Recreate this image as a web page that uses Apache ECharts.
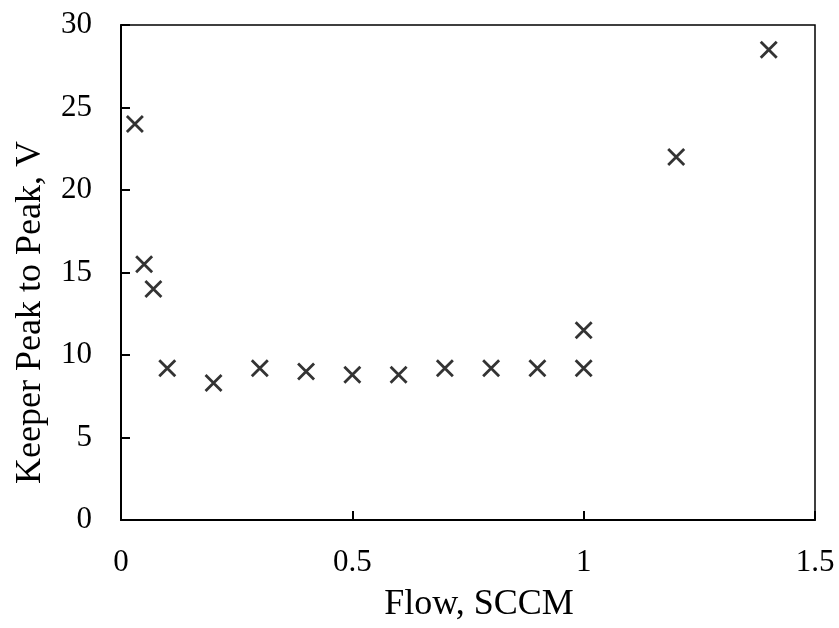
<!DOCTYPE html>
<html><head><meta charset="utf-8">
<script src="https://cdn.jsdelivr.net/npm/echarts@6/dist/echarts.min.js"></script>
<style>html,body{margin:0;padding:0;background:#fff}#c{width:839px;height:628px}</style>
</head><body><div id="c"></div>
<script>
const flow = [0.03, 0.05, 0.07, 0.1, 0.2, 0.3, 0.4, 0.5, 0.6, 0.7, 0.8, 0.9, 1.0, 1.0, 1.2, 1.4];
const peakToPeak = [24.0, 15.5, 14.0, 9.2, 8.3, 9.2, 9.0, 8.8, 8.8, 9.2, 9.2, 9.2, 9.2, 11.5, 22.0, 28.5];
const xTicks = [0, 0.5, 1, 1.5];
const yTicks = [0, 5, 10, 15, 20, 25, 30];
const xName = 'Flow, SCCM';
const yName = 'Keeper Peak to Peak, V';

const font = '"Liberation Serif", "Times New Roman", serif';
const chart = echarts.init(document.getElementById('c'), null, {renderer: 'canvas'});
chart.setOption({
  animation: false,
  backgroundColor: '#fff',
  grid: {left: 121, top: 25, right: 24, bottom: 107, show: true, borderColor: '#000', borderWidth: 1.5, backgroundColor: 'transparent'},
  xAxis: {
    type: 'value', min: xTicks[0], max: xTicks[xTicks.length - 1], interval: 0.5,
    name: xName, nameLocation: 'middle', nameGap: 67,
    nameTextStyle: {fontFamily: font, fontSize: 36, color: '#000', padding: [0, 0, 0, 22]},
    axisLine: {show: true, lineStyle: {color: '#000', width: 2}},
    axisTick: {show: true, inside: true, length: 9, lineStyle: {color: '#000', width: 2}},
    axisLabel: {fontFamily: font, fontSize: 31, color: '#000', margin: 27},
    splitLine: {show: false}
  },
  yAxis: {
    type: 'value', min: yTicks[0], max: yTicks[yTicks.length - 1], interval: 5,
    name: yName, nameLocation: 'middle', nameGap: 72,
    nameTextStyle: {fontFamily: font, fontSize: 36, color: '#000', padding: [0, 80, 0, 0]},
    axisLine: {show: true, lineStyle: {color: '#000', width: 2}},
    axisTick: {show: true, inside: true, length: 9, lineStyle: {color: '#000', width: 2}},
    axisLabel: {fontFamily: font, fontSize: 31, color: '#000', margin: 29},
    splitLine: {show: false}
  },
  series: [{
    type: 'scatter',
    data: flow.map((f, i) => [f, peakToPeak[i]]),
    symbol: 'path://M0,0L10,10M10,0L0,10',
    symbolSize: 16,
    itemStyle: {color: 'none', borderColor: '#000', borderWidth: 2.8}
  }]
});
</script></body></html>
